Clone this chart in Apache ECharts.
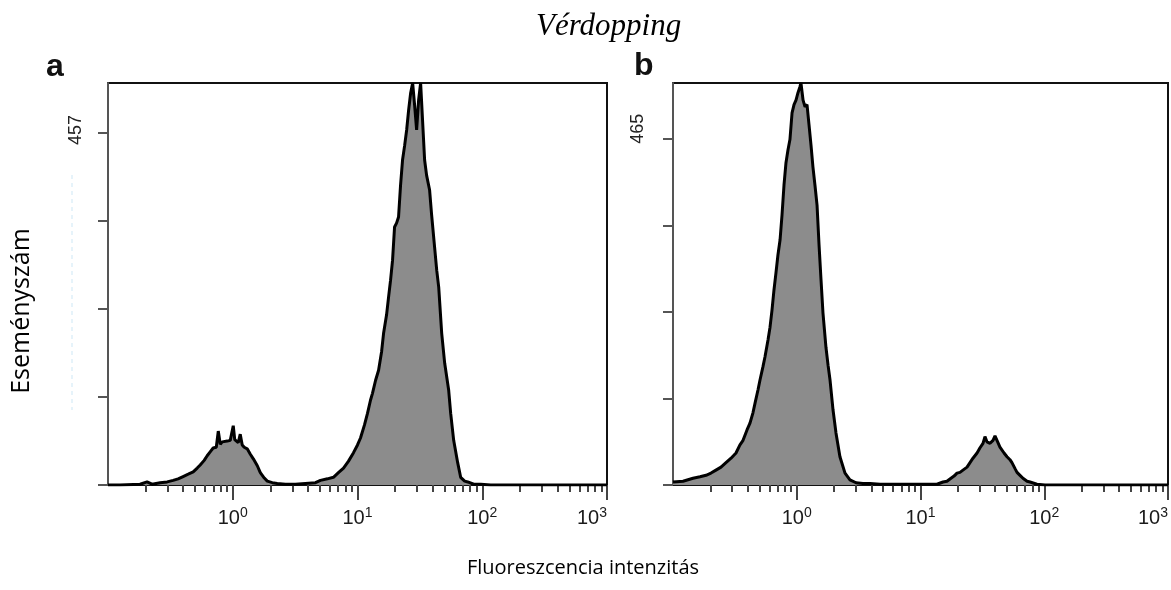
<!DOCTYPE html>
<html><head><meta charset="utf-8">
<script src="https://cdn.jsdelivr.net/npm/echarts@6/dist/echarts.min.js"></script>
<style>html,body{margin:0;padding:0;background:#fff}#c{width:1171px;height:590px}</style>
</head><body><div id="c"></div>
<script>
// ---- texts ----
const titleText = 'Vérdopping';
const yAxisName = 'Eseményszám';
const xAxisName = 'Fluoreszcencia intenzitás';
const panelLabels = ['a', 'b'];
// ---- axis ticks ----
const xMajorExponents = [0, 1, 2, 3];          // labels 10^0 ... 10^3
const xMinorMultipliers = [2, 3, 4, 5, 6, 7, 8, 9];
const xDecades = [-1, 0, 1, 2];
const yTopLabelA = 457;
const yTopLabelB = 465;
const yMaxA = 522;
const yMaxB = 540;
// ---- panel a: x = log10(intensity), y = events ----
const xLogA = [-1.000,-0.904,-0.743,-0.687,-0.647,-0.582,-0.526,-0.478,-0.438,-0.398,-0.357,-0.317,-0.285,-0.261,-0.229,-0.205,-0.181,-0.157,-0.132,-0.116,-0.100,-0.084,-0.068,-0.044,-0.020,-0.004,0.004,0.016,0.028,0.044,0.060,0.076,0.092,0.116,0.141,0.165,0.197,0.221,0.253,0.277,0.317,0.357,0.422,0.502,0.582,0.663,0.703,0.759,0.807,0.847,0.888,0.928,0.968,1.000,1.024,1.056,1.080,1.104,1.120,1.145,1.169,1.193,1.209,1.233,1.249,1.265,1.281,1.297,1.313,1.329,1.345,1.361,1.378,1.394,1.410,1.426,1.442,1.458,1.474,1.490,1.506,1.522,1.538,1.554,1.578,1.594,1.618,1.635,1.651,1.675,1.699,1.731,1.747,1.771,1.803,1.827,1.859,1.884,1.932,1.988,2.068,3.000];
const countA = [0,0,1,4,1,3,4,6,8,11,14,17,22,26,32,38,43,48,49,70,53,56,56,57,58,60,77,59,58,55,66,52,49,47,40,34,25,16,9,5,3,2,1,1,2,3,6,8,10,16,22,31,42,52,61,78,93,110,119,136,149,173,197,221,244,266,292,335,340,348,389,422,441,461,487,509,522,493,461,500,522,522,422,402,383,351,309,279,257,197,158,123,93,58,29,10,5,4,1,1,0,0];
// ---- panel b ----
const xLogB = [-1.000,-0.919,-0.838,-0.782,-0.733,-0.693,-0.653,-0.612,-0.572,-0.531,-0.491,-0.459,-0.434,-0.402,-0.378,-0.354,-0.337,-0.313,-0.297,-0.273,-0.257,-0.232,-0.216,-0.200,-0.184,-0.168,-0.152,-0.135,-0.119,-0.103,-0.087,-0.071,-0.055,-0.038,-0.022,-0.006,0.010,0.026,0.034,0.051,0.067,0.083,0.099,0.115,0.131,0.147,0.164,0.180,0.196,0.212,0.236,0.253,0.269,0.293,0.317,0.349,0.390,0.430,0.479,0.535,0.592,0.673,0.834,0.996,1.133,1.182,1.214,1.238,1.271,1.295,1.319,1.343,1.376,1.400,1.424,1.457,1.481,1.505,1.521,1.537,1.562,1.586,1.602,1.618,1.642,1.675,1.699,1.723,1.739,1.764,1.780,1.804,1.828,1.861,1.885,1.941,2.006,3.000];
const countB = [4,5,9,11,13,16,20,24,30,36,43,54,60,74,83,97,110,128,141,159,172,195,212,235,262,285,309,329,363,403,433,450,464,500,511,517,527,535,540,517,508,511,484,457,427,403,376,323,276,231,185,161,141,101,70,38,16,7,3,2,2,1,1,1,1,4,5,8,12,16,17,20,24,30,36,43,50,56,65,58,56,60,66,60,51,43,38,34,30,22,17,13,9,5,4,1,0,0];

const minorTicks = [];
xDecades.forEach(d => xMinorMultipliers.forEach(k => minorTicks.push(d + Math.log10(k))));
const yTicks = top => [0, 1, 2, 3, 4].map(i => top * i / 4);

const tickColor = '#444';
function majorX(g) {
  return {
    type: 'value', gridIndex: g, min: -1, max: 3, position: 'bottom',
    axisLine: { show: true, onZero: false, lineStyle: { color: '#111', width: 2 } },
    axisTick: { show: true, customValues: xMajorExponents, length: 15, lineStyle: { color: tickColor, width: 2 } },
    axisLabel: {
      customValues: xMajorExponents, margin: 21, alignMaxLabel: 'right',
      formatter: v => '{b|10}{s|' + Math.round(v) + '}',
      rich: {
        b: { fontFamily: 'Liberation Sans', fontSize: 20, lineHeight: 20, color: '#1a1a1a', padding: [4, 0, 0, 0] },
        s: { fontFamily: 'Liberation Sans', fontSize: 14, lineHeight: 14, color: '#1a1a1a', verticalAlign: 'top' }
      }
    },
    splitLine: { show: false }
  };
}
function minorX(g) {
  return {
    type: 'value', gridIndex: g, min: -1, max: 3, position: 'bottom',
    axisLine: { show: false },
    axisTick: { show: true, customValues: minorTicks, length: 7, lineStyle: { color: tickColor, width: 2 } },
    axisLabel: { show: false },
    splitLine: { show: false }
  };
}
function yAx(g, top, max) {
  return {
    type: 'value', gridIndex: g, min: 0, max: max,
    axisLine: { show: true, onZero: false, lineStyle: { color: '#555', width: 2 } },
    axisTick: { show: true, customValues: yTicks(top), length: 10, lineStyle: { color: '#555', width: 2 } },
    axisLabel: { customValues: [top], rotate: 90, margin: g === 0 ? 23 : 26,
      padding: g === 0 ? [0, 0, 0, 6] : [0, 0, 0, 20],
      fontSize: 18, fontFamily: 'Liberation Sans', color: '#222' },
    splitLine: { show: false }
  };
}
function hist(xi, yi, xs, ys) {
  return {
    type: 'line', xAxisIndex: xi, yAxisIndex: yi,
    data: xs.map((x, i) => [x, ys[i]]),
    showSymbol: false, symbol: 'none',
    lineStyle: { color: '#000', width: 3 },
    areaStyle: { color: '#8c8c8c', opacity: 1 },
    clip: true
  };
}

const chart = echarts.init(document.getElementById('c'), null, { renderer: 'canvas' });
chart.setOption({
  animation: false,
  backgroundColor: '#fff',
  title: [
    { text: titleText, left: 536, top: 11, padding: 0,
      textStyle: { fontFamily: 'Liberation Serif', fontStyle: 'italic', fontWeight: 'normal', fontSize: 31, color: '#000' } },
    { text: panelLabels[0], left: 46, top: 51, padding: 0,
      textStyle: { fontFamily: 'Liberation Sans', fontWeight: 'bold', fontSize: 32, color: '#111' } },
    { text: panelLabels[1], left: 634, top: 50, padding: 0,
      textStyle: { fontFamily: 'Liberation Sans', fontWeight: 'bold', fontSize: 32, color: '#111' } }
  ],
  grid: [
    { left: 108, top: 83, width: 499, height: 402, show: true, borderColor: '#111', borderWidth: 2, backgroundColor: 'transparent', outerBoundsMode: 'none', containLabel: false },
    { left: 673, top: 83, width: 495, height: 402, show: true, borderColor: '#111', borderWidth: 2, backgroundColor: 'transparent', outerBoundsMode: 'none', containLabel: false }
  ],
  xAxis: [majorX(0), minorX(0), majorX(1), minorX(1)],
  yAxis: [yAx(0, yTopLabelA, yMaxA), yAx(1, yTopLabelB, yMaxB)],
  series: [hist(0, 0, xLogA, countA), hist(2, 1, xLogB, countB)],
  graphic: [
    { type: 'text', x: 22, y: 311, rotation: Math.PI / 2,
      style: { text: yAxisName, fontFamily: 'Open Sans', fontSize: 25, fill: '#000', align: 'center', verticalAlign: 'middle' } },
    { type: 'text', x: 583, y: 568,
      style: { text: xAxisName, fontFamily: 'Open Sans', fontSize: 20, fill: '#000', align: 'center', verticalAlign: 'middle' } },
    { type: 'line', shape: { x1: 72, y1: 175, x2: 72, y2: 410 },
      style: { stroke: '#cde8f6', lineWidth: 1, lineDash: [4, 4] } }
  ]
});
</script>
</body></html>
